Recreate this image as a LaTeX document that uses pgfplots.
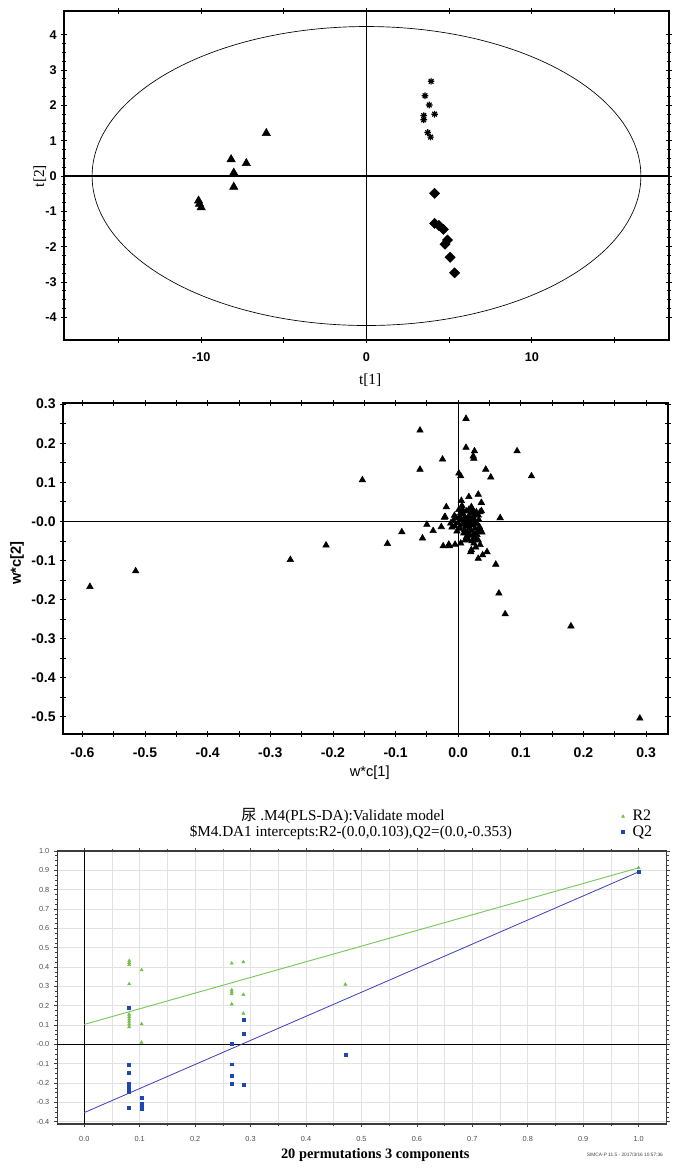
\documentclass[border=0pt]{standalone}
\usepackage{fontspec}
\setmainfont{Liberation Sans}
\newfontfamily\tnr{Liberation Serif}
\newfontfamily\cjk{Noto Sans CJK SC}
\usepackage{pgfplots}
\pgfplotsset{compat=1.18}

\definecolor{rtwo}{RGB}{112,192,72}
\definecolor{qtwo}{RGB}{28,72,180}
\definecolor{rline}{RGB}{120,200,90}
\definecolor{qline}{RGB}{60,60,190}
\definecolor{gridc}{RGB}{226,226,226}
\definecolor{boxc}{RGB}{60,60,60}

% eight-armed star as drawn by SIMCA
\pgfdeclareplotmark{star8}{%
  \pgfpathmoveto{\pgfqpoint{-\pgfplotmarksize}{0pt}}\pgfpathlineto{\pgfqpoint{\pgfplotmarksize}{0pt}}%
  \pgfpathmoveto{\pgfqpoint{0pt}{-\pgfplotmarksize}}\pgfpathlineto{\pgfqpoint{0pt}{\pgfplotmarksize}}%
  \pgfpathmoveto{\pgfqpoint{-.7\pgfplotmarksize}{-.7\pgfplotmarksize}}\pgfpathlineto{\pgfqpoint{.7\pgfplotmarksize}{.7\pgfplotmarksize}}%
  \pgfpathmoveto{\pgfqpoint{-.7\pgfplotmarksize}{.7\pgfplotmarksize}}\pgfpathlineto{\pgfqpoint{.7\pgfplotmarksize}{-.7\pgfplotmarksize}}%
  \pgfusepathqstroke}

\begin{document}
\begin{tikzpicture}
\path[use as bounding box] (0,0) rectangle (511.5pt,876pt);

% ---------- scores plot t[1]/t[2]
\begin{axis}[
    at={(48pt,621pt)}, anchor=south west,
    scale only axis, width=453.75pt, height=246.75pt,
    xmin=-18.3, xmax=18.3, ymin=-4.64, ymax=4.67,
    axis line style={line width=0.8pt},
    tick align=center,
    major tick length=4pt, minor tick length=2.5pt,
    tick style={black, line width=0.6pt},
    xtick={-15,-10,-5,0,5,10,15},
    xticklabels={,-10,,0,,10,},
    ytick={-4,-3,-2,-1,0,1,2,3,4},
    yticklabels={-4,-3,-2,-1,0,1,2,3,4},
    minor y tick num=3,
    ticklabel style={font=\fontsize{9.5}{10}\selectfont\bfseries},
    xticklabel style={yshift=-4pt},
    xlabel={\tnr t[1]}, ylabel={\tnr t[2]},
    label style={font=\fontsize{11.5}{12}\selectfont},
    xlabel style={at={(axis description cs:0.506,-0.122)}, anchor=center},
    ylabel style={at={(axis description cs:-0.040,0.498)}, anchor=center},
]
\draw[line width=0.5pt] (axis cs:0,0) ellipse [x radius=16.6, y radius=4.23];
\draw[line width=0.8pt] (axis cs:0,-4.64) -- (axis cs:0,4.67);
\draw[line width=0.8pt] (axis cs:-18.3,0) -- (axis cs:18.3,0);
\addplot[only marks, mark=triangle*, mark size=3.6pt, black] coordinates {
(-6.06,1.21) (-8.19,0.47) (-7.27,0.36) (-8.03,0.09) (-8.03,-0.31)
(-10.16,-0.70) (-10.10,-0.79) (-10.00,-0.89)
};
\addplot[only marks, mark=star8, mark size=2.5pt, black, mark options={line width=0.9pt}] coordinates {
(3.91,2.68) (3.54,2.27) (3.80,2.01) (4.12,1.75) (3.46,1.71)
(3.46,1.59) (3.70,1.23) (3.88,1.10)
};
\addplot[only marks, mark=square*, mark size=2.7pt, black, mark options={rotate=45}] coordinates {
(4.12,-0.49) (4.12,-1.34) (4.38,-1.40) (4.65,-1.51) (4.90,-1.81)
(4.75,-1.93) (5.06,-2.30) (5.33,-2.74)
};
\end{axis}

% ---------- loadings plot w*c[1]/w*c[2]
\begin{axis}[
    at={(47.25pt,325.5pt)}, anchor=south west,
    scale only axis, width=453.75pt, height=248.25pt,
    xmin=-0.631, xmax=0.335, ymin=-0.544, ymax=0.303,
    axis line style={line width=0.8pt},
    tick align=center,
    major tick length=4pt, minor tick length=4pt,
    tick style={black, line width=0.6pt},
    xtick={-0.6,-0.5,-0.4,-0.3,-0.2,-0.1,0,0.1,0.2,0.3},
    xticklabels={-0.6,-0.5,-0.4,-0.3,-0.2,-0.1,0.0,0.1,0.2,0.3},
    ytick={-0.5,-0.4,-0.3,-0.2,-0.1,0,0.1,0.2,0.3},
    yticklabels={-0.5,-0.4,-0.3,-0.2,-0.1,-0.0,0.1,0.2,0.3},
    minor x tick num=1, minor y tick num=1,
    ticklabel style={font=\fontsize{10.5}{11}\selectfont\bfseries},
    xticklabel style={yshift=-5pt},
    xlabel={w*c[1]}, ylabel={\bfseries w*c[2]},
    label style={font=\fontsize{11}{12}\selectfont},
    xlabel style={at={(axis description cs:0.507,-0.118)}, anchor=center},
    ylabel style={at={(axis description cs:-0.076,0.517)}, anchor=center},
]
\draw[line width=0.8pt] (axis cs:0,-0.544) -- (axis cs:0,0.303);
\draw[line width=0.8pt] (axis cs:-0.631,0) -- (axis cs:0.335,0);
\addplot[only marks, mark=triangle*, mark size=2.8pt, black] coordinates {
(-0.588,-0.167) (-0.515,-0.127) (-0.268,-0.098) (-0.211,-0.061)
(-0.153,0.106) (-0.113,-0.057) (-0.090,-0.027) (-0.061,0.233)
(-0.061,0.133) (-0.057,-0.043) (-0.050,-0.008) (-0.040,-0.024)
(-0.025,0.159) (-0.019,0.037) (-0.022,0.010) (-0.027,-0.014)
(-0.024,-0.063) (-0.015,-0.059) (-0.005,-0.059) (0.0125,0.263)
(0.0125,0.189) (0.026,0.180) (0.024,0.167) (0.025,0.161)
(0.001,0.123) (0.004,0.116) (0.044,0.133) (0.052,0.113)
(0.094,0.180) (0.117,0.116) (0.005,0.053) (0.017,0.063)
(0.032,0.069) (0.037,0.048) (0.021,0.037) (0.037,0.027)
(0.067,0.009) (0.020,-0.078) (0.004,-0.056) (0.025,-0.056)
(0.032,-0.048) (0.046,-0.078) (0.039,-0.086) (0.032,-0.095)
(0.060,-0.110) (0.065,-0.184) (0.075,-0.237) (0.180,-0.268)
(0.290,-0.504) (-0.021,0.012) (-0.014,-0.063) (0.011,-0.048)
(0.021,-0.073) (0.028,-0.066) (0.035,-0.060)
(-0.012,-0.005) (-0.008,0.002) (-0.005,-0.012) (-0.003,0.008)
(0.000,-0.004) (0.002,0.012) (0.003,-0.018) (0.005,0.004)
(0.006,-0.008) (0.008,0.018) (0.009,-0.002) (0.010,-0.022)
(0.011,0.010) (0.012,-0.012) (0.013,0.026) (0.014,0.002)
(0.015,-0.030) (0.016,-0.006) (0.017,0.014) (0.018,-0.016)
(0.019,0.006) (0.020,-0.024) (0.021,0.020) (0.022,-0.002)
(0.023,-0.010) (0.024,0.010) (0.025,-0.032) (0.026,0.002)
(0.027,-0.018) (0.028,0.016) (0.030,-0.006) (0.031,-0.026)
(0.033,0.004) (0.034,-0.014) (0.036,-0.022) (0.004,0.022)
(0.007,0.030) (-0.006,0.015) (-0.010,-0.015) (-0.002,-0.025)
(0.001,0.030) (0.017,0.030) (0.024,0.026) (0.029,0.024)
(0.032,0.016) (0.009,-0.030) (0.019,-0.036) (0.013,-0.040)
(0.026,-0.040) (0.030,-0.034) (0.038,-0.028) (0.035,0.024)
(0.022,0.033) (0.006,0.040) (0.028,-0.046) (0.022,-0.050)
(0.016,-0.046)
};
\end{axis}

% ---------- permutation test
\begin{axis}[
    at={(43pt,33pt)}, anchor=south west,
    scale only axis, width=456.75pt, height=204.75pt,
    xmin=-0.0486, xmax=1.05, ymin=-0.412, ymax=1.0,
    axis line style={boxc, line width=0.9pt},
    tick align=outside,
    major tick length=2.5pt, minor tick length=1.8pt,
    tick style={boxc, line width=0.5pt},
    xtick={0,0.1,0.2,0.3,0.4,0.5,0.6,0.7,0.8,0.9,1.0},
    xticklabels={0.0,0.1,0.2,0.3,0.4,0.5,0.6,0.7,0.8,0.9,1.0},
    ytick={-0.4,-0.3,-0.2,-0.1,0,0.1,0.2,0.3,0.4,0.5,0.6,0.7,0.8,0.9,1.0},
    yticklabels={-0.4,-0.3,-0.2,-0.1,-0.0,0.1,0.2,0.3,0.4,0.5,0.6,0.7,0.8,0.9,1.0},
    minor x tick num=1, minor y tick num=3,
    xmajorgrids, xminorgrids, ymajorgrids,
    grid style={gridc, line width=0.5pt},
    minor grid style={gridc, line width=0.5pt},
    ticklabel style={font=\fontsize{5.5}{6}\selectfont, text=black!70},
    xticklabel style={yshift=-3pt},
    xlabel={\tnr\bfseries 20 permutations 3 components},
    label style={font=\fontsize{10.8}{12}\selectfont},
    xlabel style={at={(axis description cs:0.522,-0.114)}, anchor=center},
    legend style={at={(axis description cs:0.926,1.16)}, anchor=north west,
        draw=none, fill=none, font=\tnr\fontsize{12}{13}\selectfont,
        row sep=-2pt, column sep=4pt, inner sep=0pt},
    legend cell align=left,
    clip=false,
]
\draw[black, line width=0.6pt] (axis cs:0,-0.412) -- (axis cs:0,1.0);
\draw[black, line width=0.6pt] (axis cs:-0.0486,0) -- (axis cs:1.05,0);
\addplot[only marks, mark=triangle*, mark size=1.3pt, rtwo] coordinates {
(0.081,0.432) (0.081,0.422) (0.081,0.412) (0.081,0.312) (0.081,0.155)
(0.081,0.143) (0.081,0.130) (0.081,0.118) (0.081,0.104) (0.081,0.090)
(0.1035,0.384) (0.1035,0.105) (0.1035,0.010)
(0.266,0.419) (0.266,0.281) (0.266,0.271) (0.266,0.260) (0.266,0.208)
(0.287,0.426) (0.287,0.257) (0.287,0.160)
(0.471,0.310) (1.0,0.913)
};
\addlegendentry{R2}
\addplot[only marks, mark=square*, mark size=1.1pt, qtwo] coordinates {
(0.081,0.191) (0.081,-0.107) (0.081,-0.145) (0.081,-0.202) (0.081,-0.214)
(0.081,-0.225) (0.081,-0.237) (0.081,-0.248) (0.081,-0.326)
(0.1035,-0.276) (0.1035,-0.305) (0.1035,-0.319) (0.1035,-0.333)
(0.266,0.005) (0.266,-0.103) (0.266,-0.162) (0.266,-0.202)
(0.287,0.129) (0.287,0.057) (0.287,-0.209)
(0.471,-0.052) (1.0,0.892)
};
\addlegendentry{Q2}
\addplot[rline, line width=0.7pt, forget plot] coordinates {(0,0.103) (1.0,0.913)};
\addplot[qline, line width=0.6pt, forget plot] coordinates {(0,-0.353) (1.0,0.892)};
\node[font=\fontsize{11.4}{12}\selectfont] at (axis description cs:0.469,1.128)
    {{\cjk 尿}\tnr\ .M4(PLS-DA):Validate model};
\node[font=\tnr\fontsize{11.4}{12}\selectfont] at (axis description cs:0.482,1.066)
    {\$M4.DA1 intercepts:R2-(0.0,0.103),Q2=(0.0,-0.353)};
\node[font=\fontsize{3.6}{4}\selectfont, text=black!75] at (axis description cs:0.932,-0.114)
    {SIMCA-P 11.5 - 2017/3/16 10:57:36};
\end{axis}
\end{tikzpicture}
\end{document}
